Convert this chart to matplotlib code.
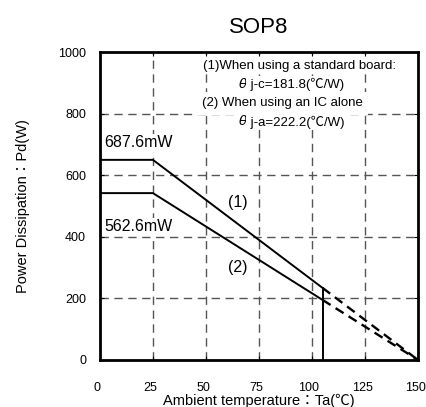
import matplotlib.pyplot as plt
import matplotlib.transforms as mtransforms

# Derating curve data
ta_solid = [0, 25, 105]
pd_board = [650, 650, 234]
pd_alone = [542, 542, 195]
ta_dash = [105, 150]
pd_board_dash = [234, 0]
pd_alone_dash = [195, 0]
cutoff_ta = 105

xticks = [0, 25, 50, 75, 100, 125, 150]
yticks = [0, 200, 400, 600, 800, 1000]

fam = ['Liberation Sans', 'Noto Sans CJK JP', 'DejaVu Sans']
plt.rcParams['font.family'] = fam

fig = plt.figure(figsize=(4.27, 4.07), dpi=100)
ax = fig.add_axes([0.234, 0.1155, 0.745, 0.7565])

# Grid
for x in xticks[1:-1]:
    ax.axvline(x, color='#555555', lw=1.0, dashes=(6, 4), zorder=1)
for y in yticks[1:-1]:
    ax.axhline(y, color='#555555', lw=1.0, dashes=(6, 4), zorder=1)

# Curves
ax.plot(ta_solid, pd_board, color='black', lw=1.4, zorder=3)
ax.plot(ta_solid, pd_alone, color='black', lw=1.4, zorder=3)
ax.plot(ta_dash, pd_board_dash, color='black', lw=1.7, dashes=(4, 2.5), zorder=3)
ax.plot(ta_dash, pd_alone_dash, color='black', lw=1.7, dashes=(4, 2.5), zorder=3)
ax.plot([cutoff_ta, cutoff_ta], [0, pd_board[-1]], color='black', lw=1.4, zorder=3)

ax.set_xlim(0, 150)
ax.set_ylim(0, 1000)
ax.set_xticks(xticks)
ax.set_yticks(yticks)
ax.tick_params(direction='in', length=3, top=True, right=True, labelsize=9)
ax.tick_params(axis='x', pad=16)
ax.tick_params(axis='y', pad=10)
for s in ax.spines.values():
    s.set_linewidth(2)

# Shift x tick labels a little left, as in the reference
shift = mtransforms.ScaledTranslation(-3 / 100, 0, fig.dpi_scale_trans)
for tick in ax.xaxis.get_major_ticks():
    tick.label1.set_transform(tick.label1.get_transform() + shift)

# Annotations
bbox = dict(facecolor='white', edgecolor='none', pad=1)
ax.text(2, 705, '687.6mW', fontsize=11.5, va='center', bbox=bbox, zorder=4)
ax.text(2, 432, '562.6mW', fontsize=11.5, va='center', bbox=bbox, zorder=4)
ax.text(65, 513, '(1)', fontsize=11.5, ha='center', va='center', zorder=4)
ax.text(65, 299, '(2)', fontsize=11.5, ha='center', va='center', zorder=4)

ax.text(94, 955, '(1)When using a standard board:', fontsize=9.5, ha='center', va='center',
        bbox=bbox, zorder=4)
ax.text(86, 834, '(2) When using an IC alone', fontsize=9.5, ha='center', va='center',
        bbox=dict(facecolor='white', edgecolor='none', pad=4), zorder=4)
for yv, txt in [(896, ' j-c=181.8(\u2103/W)'), (773, ' j-a=222.2(\u2103/W)')]:
    ax.text(69.5, yv, '\u03b8', fontsize=9.5, family='DejaVu Sans', style='italic',
            ha='right', va='center', bbox=bbox, zorder=4)
    ax.text(69.5, yv, txt, fontsize=9.5, ha='left', va='center', bbox=bbox, zorder=4)

ax.set_title('SOP8', fontsize=16, pad=14)
ax.set_xlabel('Ambient temperature\uff1aTa(\u2103)', fontsize=10.5, labelpad=0)
ax.set_ylabel('Power Dissipation\uff1aPd(W)', fontsize=10.5, labelpad=20)

fig.savefig('out.png', dpi=100)
